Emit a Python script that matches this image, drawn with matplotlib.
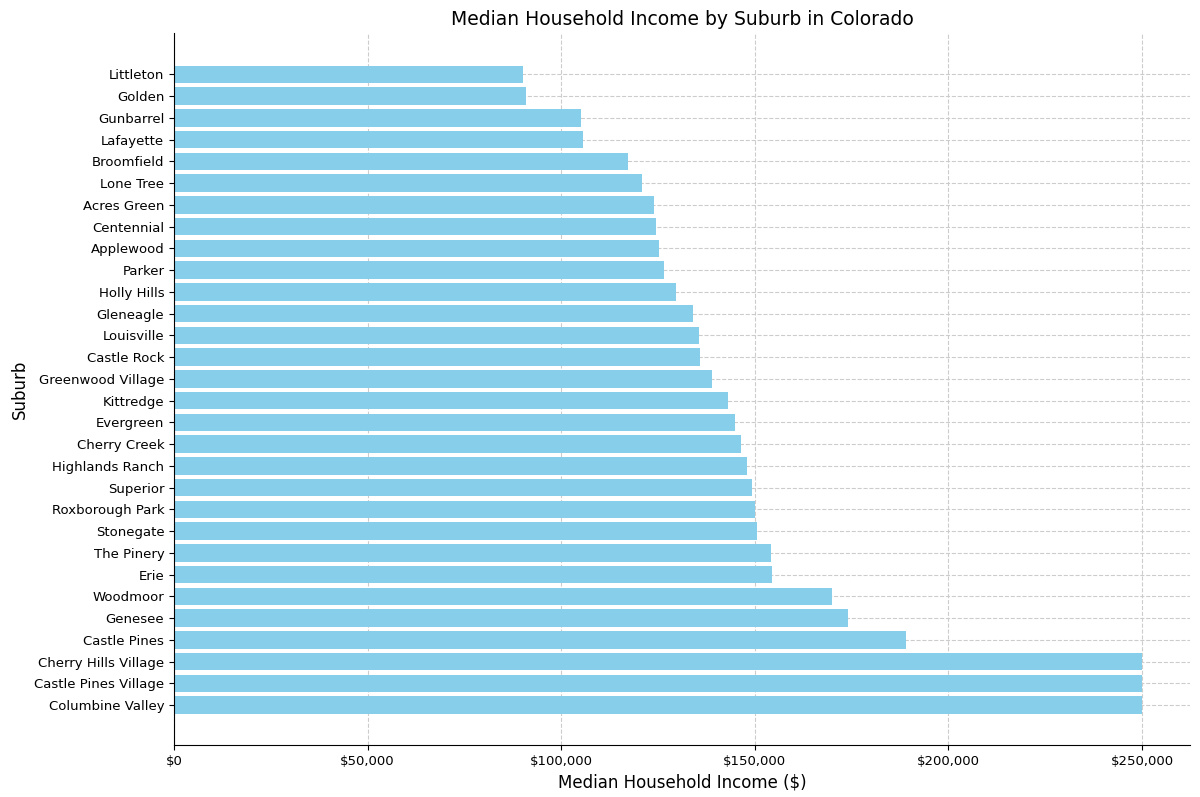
import matplotlib.pyplot as plt
from matplotlib.ticker import FuncFormatter

suburbs = ['Columbine Valley', 'Castle Pines Village', 'Cherry Hills Village', 'Castle Pines',
           'Genesee', 'Woodmoor', 'Erie', 'The Pinery', 'Stonegate', 'Roxborough Park',
           'Superior', 'Highlands Ranch', 'Cherry Creek', 'Evergreen', 'Kittredge',
           'Greenwood Village', 'Castle Rock', 'Louisville', 'Gleneagle', 'Holly Hills',
           'Parker', 'Applewood', 'Centennial', 'Acres Green', 'Lone Tree', 'Broomfield',
           'Lafayette', 'Gunbarrel', 'Golden', 'Littleton']
incomes = [250001, 250001, 250001, 189000, 174100, 169900, 154400, 154200, 150600, 150100,
           149300, 148000, 146400, 144900, 143100, 138900, 135800, 135600, 134000, 129600,
           126500, 125300, 124500, 124000, 120900, 117300, 105600, 105100, 90900, 90100]

fig = plt.figure(figsize=(12, 7.97), dpi=100)
ax = fig.add_axes([0.145, 0.065, 0.847, 0.893])
ax.barh(suburbs, incomes, color='#87CEEB', height=0.8)

ax.set_xlim(0, 262500)
ax.set_ylim(-1.84, 30.88)
ax.xaxis.set_major_formatter(FuncFormatter(lambda v, p: f'${v:,.0f}'))
ax.set_xlabel('Median Household Income ($)', fontsize=12)
ax.set_ylabel('Suburb', fontsize=12)
ax.set_title('Median Household Income by Suburb in Colorado', fontsize=13.5)
ax.tick_params(labelsize=9.5)
ax.grid(True, linestyle='--', color='#cccccc', linewidth=0.8)
ax.set_axisbelow(True)
ax.spines['top'].set_visible(False)
ax.spines['right'].set_visible(False)

plt.savefig('out.png')
